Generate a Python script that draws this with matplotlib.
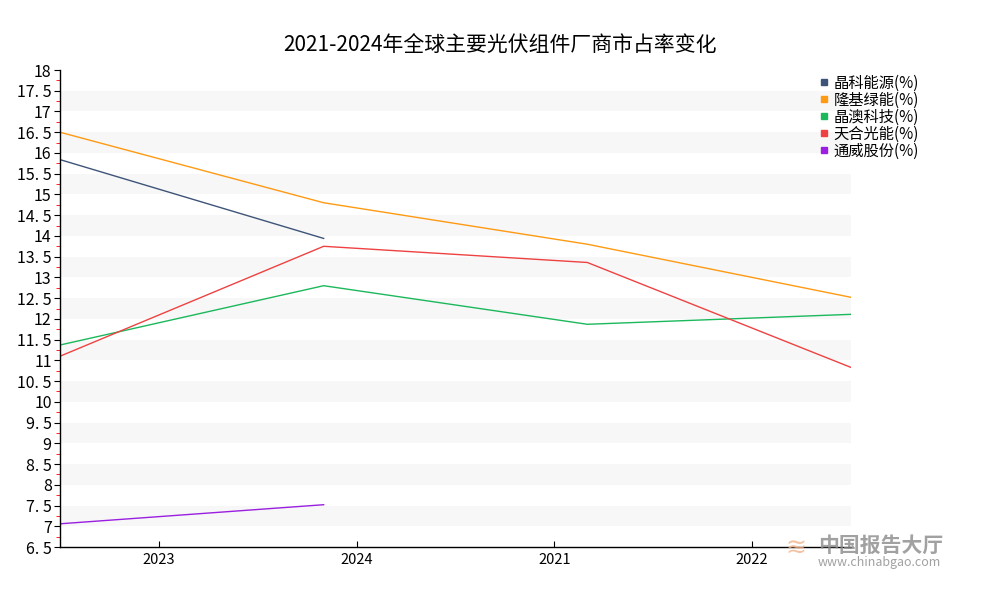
import matplotlib
matplotlib.use("Agg")
import matplotlib.pyplot as plt
from matplotlib.lines import Line2D
import numpy as np

plt.rcParams['font.family'] = ['Noto Sans CJK SC', 'DejaVu Sans']

# data
years = ['2023', '2024', '2021', '2022']
series_names = ['晶科能源(%)', '隆基绿能(%)', '晶澳科技(%)', '天合光能(%)', '通威股份(%)']
jinko = [15.84, 13.94]
longi = [16.5, 14.8, 13.8, 12.52]
jasolar = [11.37, 12.8, 11.87, 12.11]
trina = [11.1, 13.75, 13.36, 10.83]
tongwei = [7.06, 7.52]
colors = ['#3d5478', '#ff9a12', '#1cb85c', '#ee4242', '#9a1fe0']

fig = plt.figure(figsize=(10, 6), dpi=100)
ax = fig.add_axes([0.06, 0.0883, 0.791, 0.795])

all_series = [jinko, longi, jasolar, trina, tongwei]
for vals, c in zip(all_series, colors):
    ax.plot(np.arange(len(vals)), vals, color=c, lw=1.0)

ax.set_xlim(0, 3)
ax.set_ylim(6.5, 18)

# alternating bands
for lo in np.arange(7.0, 18.0, 1.0):
    ax.axhspan(lo, lo + 0.5, color='#f7f7f7', zorder=0, lw=0)

# category labels sit in band centres
n = len(years)
ax.set_xticks([(i + 0.5) * 3 / n for i in range(n)])
ax.set_xticklabels(years, fontsize=10.5)
ax.tick_params(axis='x', direction='in', length=4, color='black', pad=4)

ax.set_yticks(np.arange(6.5, 18.01, 0.5))
ax.set_yticklabels([('%g' % v).replace('.', '. ') for v in np.arange(6.5, 18.01, 0.5)],
                   fontsize=11.5)
ax.set_yticks(np.arange(6.75, 18, 0.5), minor=True)
ax.tick_params(axis='y', which='major', length=4, color='black', pad=2)
ax.tick_params(axis='y', which='minor', length=3, color='red')

for s in ['top', 'right']:
    ax.spines[s].set_visible(False)
ax.spines['left'].set_linewidth(1)
ax.spines['bottom'].set_linewidth(1)

fig.text(0.5, 0.925, '2021-2024年全球主要光伏组件厂商市占率变化', ha='center',
         va='center', fontsize=15)

handles = [Line2D([], [], ls='none', marker='s', markersize=4.5, color=c) for c in colors]
fig.legend(handles, series_names, loc='upper left', bbox_to_anchor=(0.812, 0.888),
           frameon=False, fontsize=11, handlelength=0.6, handletextpad=0.3,
           labelspacing=0.0, borderpad=0)

# watermark
fig.text(0.818, 0.092, '中国报告大厅', fontsize=15, color='#8a8a8a', alpha=0.8,
         va='center', fontweight='bold')
fig.text(0.818, 0.062, 'www.chinabgao.com', fontsize=9, color='#8a8a8a', alpha=0.8,
         va='center')
fig.text(0.785, 0.085, '≋', fontsize=18, color='#f2b38a', alpha=0.8, va='center')

fig.savefig('out.png')
